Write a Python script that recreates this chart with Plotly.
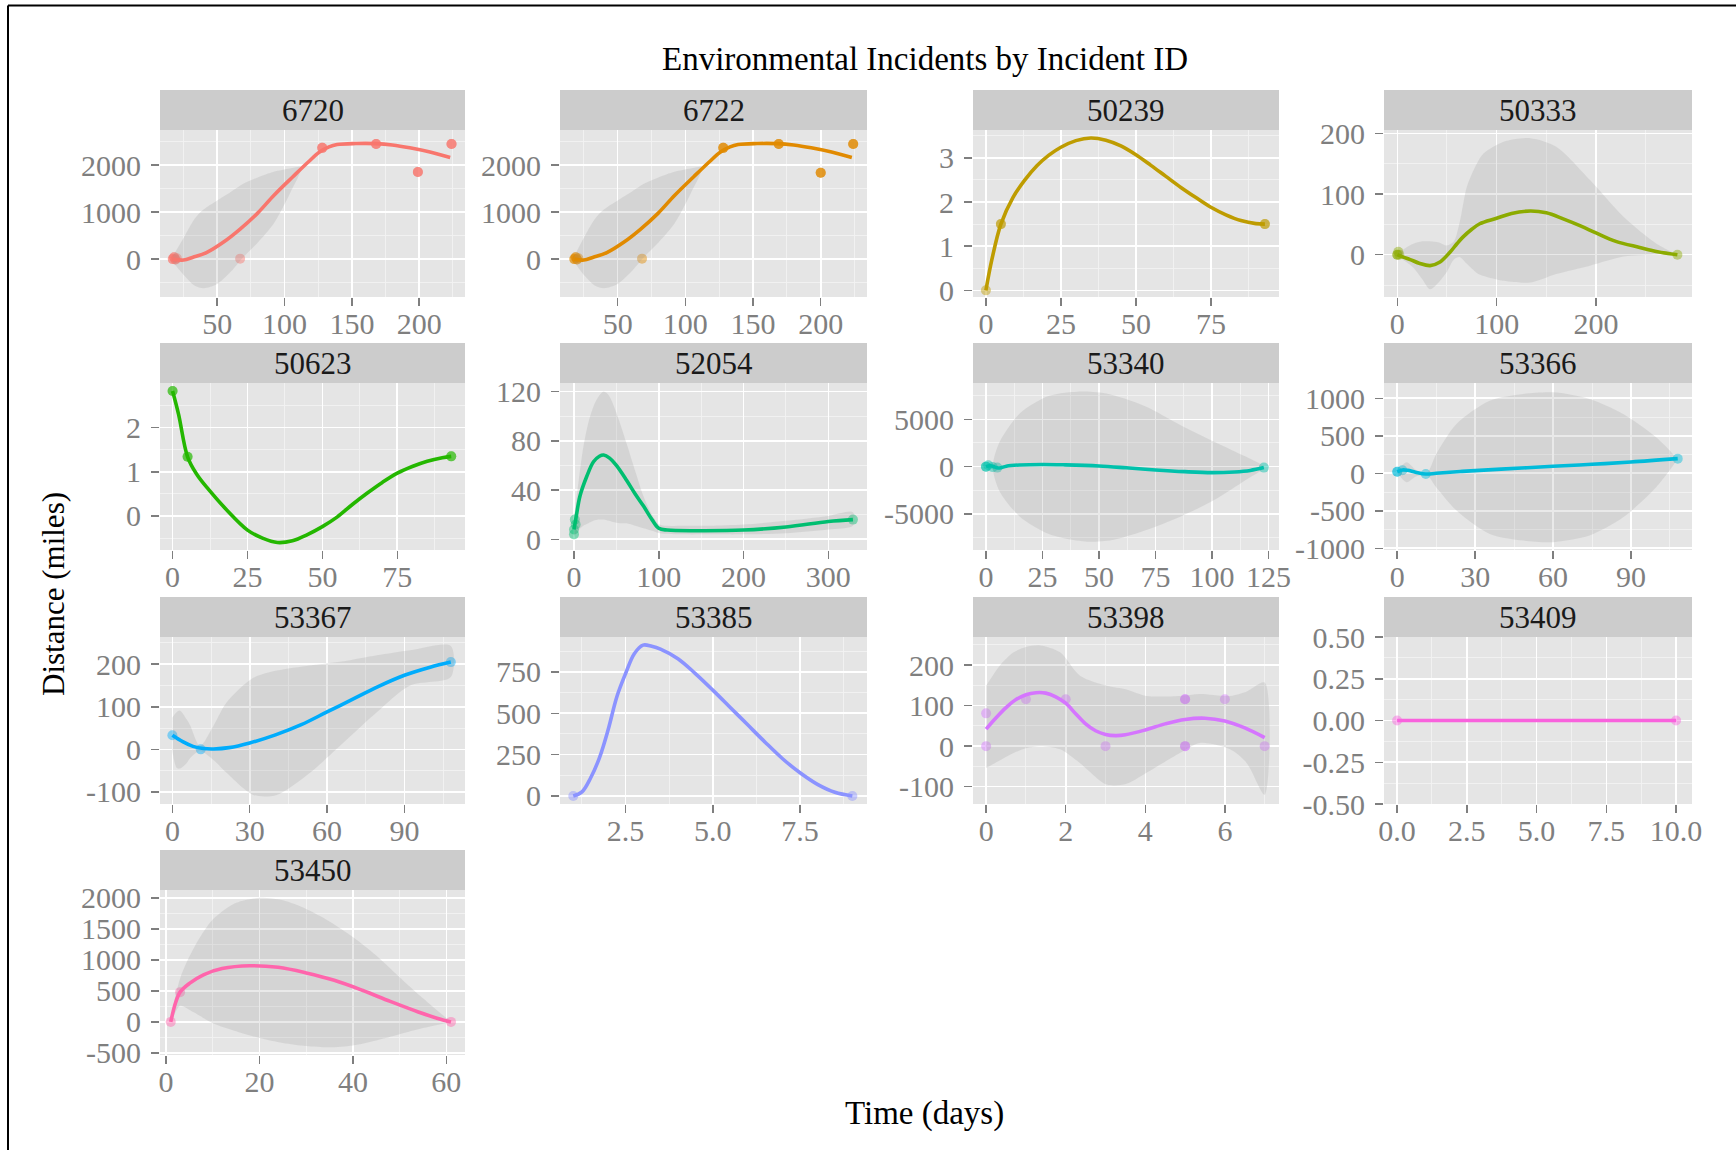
import plotly.graph_objects as go

# ---------------- data ----------------
IDS = ["6720", "6722", "50239", "50333", "50623", "52054", "53340",
       "53366", "53367", "53385", "53398", "53409", "53450"]
COLORS = ["#F8766D", "#E18A00", "#BE9C00", "#8CAB00", "#24B700", "#00BE70",
          "#00C1AB", "#00BBDA", "#00ACFC", "#8B93FF", "#D575FE", "#F962DD", "#FF65AC"]

# 6720 (repeated observations drawn on top of each other)
p6720_pt_x = [17, 17, 18, 18, 20, 19, 19, 67, 128, 128, 128, 168, 168, 168, 199, 199, 199, 224, 224, 224]
p6720_pt_y = [0, 0, 40, 40, 20, -10, -10, 10, 2370, 2370, 2370, 2450, 2450, 2450, 1855, 1855, 1855, 2450, 2450, 2450]
p6720_fit_x = [17, 25, 32, 42, 55, 67, 80, 92, 106, 118, 126, 133, 139, 153, 168, 180, 193, 208, 223]
p6720_fit_y = [0, -20, 40, 140, 370, 640, 980, 1355, 1750, 2080, 2280, 2390, 2440, 2462, 2460, 2430, 2370, 2280, 2165]
p6720_band_x = [17, 24, 33, 40, 50, 60, 69, 80, 92, 104, 112]
p6720_band_hi = [60, 400, 850, 1060, 1250, 1430, 1600, 1740, 1860, 1930, 1960]
p6720_band_lo = [-60, -300, -560, -620, -530, -270, 30, 350, 760, 1400, 1880]
p6720_xticks = [50, 100, 150, 200]
p6720_xlabels = ["50", "100", "150", "200"]
p6720_yticks = [0, 1000, 2000]
p6720_ylabels = ["0", "1000", "2000"]

# 6722
p6722_pt_x = [18, 18, 19, 19, 21, 20, 20, 68, 128, 128, 128, 169, 169, 169, 200, 200, 200, 224, 224, 224]
p6722_pt_y = [0, 0, 40, 40, 20, -10, -10, 10, 2370, 2370, 2370, 2450, 2450, 2450, 1840, 1840, 1840, 2450, 2450, 2450]
p6722_fit_x = [18, 25, 32, 42, 55, 67, 80, 92, 106, 118, 126, 133, 139, 153, 168, 180, 193, 208, 223]
p6722_fit_y = [0, -20, 40, 140, 370, 640, 980, 1355, 1750, 2080, 2280, 2390, 2440, 2462, 2460, 2430, 2370, 2280, 2165]
p6722_band_x = [18, 24, 33, 40, 50, 60, 69, 80, 92, 104, 112]
p6722_band_hi = [60, 400, 850, 1060, 1250, 1430, 1600, 1740, 1860, 1930, 1960]
p6722_band_lo = [-60, -300, -560, -620, -530, -270, 30, 350, 760, 1400, 1880]
p6722_xticks = [50, 100, 150, 200]
p6722_xlabels = ["50", "100", "150", "200"]
p6722_yticks = [0, 1000, 2000]
p6722_ylabels = ["0", "1000", "2000"]

# 50239
p50239_pt_x = [0, 5, 5, 93, 93]
p50239_pt_y = [0, 1.5, 1.5, 1.5, 1.5]
p50239_fit_x = [0, 2, 5, 9, 13, 17, 21, 25, 30, 35, 40, 45, 50, 55, 60, 65, 70, 75, 80, 85, 90, 93]
p50239_fit_y = [0, 0.7, 1.5, 2.1, 2.5, 2.82, 3.06, 3.24, 3.39, 3.45, 3.4, 3.27, 3.07, 2.83, 2.58, 2.33, 2.1, 1.88, 1.71, 1.58, 1.51, 1.5]
p50239_band_x = []
p50239_band_hi = []
p50239_band_lo = []
p50239_xticks = [0, 25, 50, 75]
p50239_xlabels = ["0", "25", "50", "75"]
p50239_yticks = [0, 1, 2, 3]
p50239_ylabels = ["0", "1", "2", "3"]

# 50333
p50333_pt_x = [0, 0, 1, 2, 282]
p50333_pt_y = [0, 0, 5, 0, 0]
p50333_fit_x = [0, 6, 13, 22, 33, 43, 53, 60, 66, 75, 83, 100, 115, 134, 150, 167, 185, 200, 220, 244, 262, 282]
p50333_fit_y = [0, -4, -8, -14, -18, -12, 4, 18, 29, 42, 51, 60, 68, 72, 69, 59, 47, 36, 22, 12, 5, 0]
p50333_band_x = [0, 9, 16, 25, 33, 42, 50, 57, 63, 70, 80, 87, 107, 134, 160, 194, 228, 261, 282]
p50333_band_hi = [0, 12, 18, 22, 22, 20, 15, 22, 55, 112, 150, 167, 186, 192, 178, 123, 62, 18, 0]
p50333_band_lo = [0, -12, -21, -40, -57, -45, -28, -8, -4, -15, -30, -35, -43, -46, -32, -18, -3, 0, 0]
p50333_xticks = [0, 100, 200]
p50333_xlabels = ["0", "100", "200"]
p50333_yticks = [0, 100, 200]
p50333_ylabels = ["0", "100", "200"]

# 50623
p50623_pt_x = [0, 0, 5, 5, 93, 93]
p50623_pt_y = [2.83, 2.83, 1.34, 1.34, 1.35, 1.35]
p50623_fit_x = [0, 2, 5, 8, 12, 18, 25, 30, 35, 40, 45, 50, 55, 60, 65, 70, 75, 80, 85, 90, 93]
p50623_fit_y = [2.83, 2.3, 1.34, 0.95, 0.6, 0.14, -0.32, -0.5, -0.6, -0.56, -0.42, -0.24, -0.02, 0.26, 0.52, 0.76, 0.97, 1.12, 1.24, 1.32, 1.35]
p50623_band_x = []
p50623_band_hi = []
p50623_band_lo = []
p50623_xticks = [0, 25, 50, 75]
p50623_xlabels = ["0", "25", "50", "75"]
p50623_yticks = [0, 1, 2]
p50623_ylabels = ["0", "1", "2"]

# 52054
p52054_pt_x = [0, 0, 1, 2, 329]
p52054_pt_y = [4, 8, 16, 12, 16]
p52054_fit_x = [0, 3, 7, 15, 23, 30, 35, 42, 50, 62, 72, 82, 92, 100, 110, 150, 200, 250, 300, 329]
p52054_fit_y = [8, 20, 35, 51, 63, 67.5, 68.5, 66, 60, 48, 37, 27, 16, 9, 7.5, 7, 7.5, 10, 14.5, 16]
p52054_band_x = [0, 5, 11, 17, 23, 29, 35, 41, 46, 54, 62, 72, 82, 92, 101, 130, 160, 200, 250, 300, 329]
p52054_band_hi = [18, 45, 75, 95, 108, 116, 120, 117, 110, 95, 78, 56, 35, 20, 12, 11, 11, 12, 15, 19, 22]
p52054_band_lo = [2, 7, 11, 13, 15, 16, 16, 15, 14, 13, 13, 11, 9, 7, 5, 4, 4, 4, 5, 8, 11]
p52054_xticks = [0, 100, 200, 300]
p52054_xlabels = ["0", "100", "200", "300"]
p52054_yticks = [0, 40, 80, 120]
p52054_ylabels = ["0", "40", "80", "120"]

# 53340
p53340_pt_x = [0, 0, 1, 3, 5, 123]
p53340_pt_y = [0, 0, 150, -50, -100, -100]
p53340_fit_x = [0, 2, 4, 6, 9, 15, 25, 35, 50, 62, 75, 88, 100, 110, 117, 123]
p53340_fit_y = [0, 100, -50, -150, 50, 180, 230, 190, 70, -120, -350, -530, -630, -560, -400, -100]
p53340_band_x = [3, 6, 15, 27, 35, 45, 56, 71, 86, 101, 115, 123]
p53340_band_hi = [0, 2600, 5640, 7400, 7800, 7930, 7580, 6340, 4410, 2640, 1060, 0]
p53340_band_lo = [0, -2600, -5285, -7040, -7600, -7930, -7750, -6690, -5285, -3520, -1400, -200]
p53340_xticks = [0, 25, 50, 75, 100, 125]
p53340_xlabels = ["0", "25", "50", "75", "100", "125"]
p53340_yticks = [-5000, 0, 5000]
p53340_ylabels = ["-5000", "0", "5000"]

# 53366
p53366_pt_x = [0, 0, 2, 11, 108]
p53366_pt_y = [20, 20, 40, -10, 195]
p53366_fit_x = [0, 2, 4, 7, 11, 15, 25, 40, 60, 75, 90, 108]
p53366_fit_y = [20, 45, 40, 15, -10, 0, 25, 55, 93, 120, 150, 195]
p53366_band_x = [0, 3.6, 7.4, 11.3, 15, 22.8, 35.6, 48.5, 60, 74, 87, 99.7, 107.4]
p53366_band_hi = [30, 147, 40, 0, 258, 658, 968, 1058, 1080, 992, 792, 480, 200]
p53366_band_lo = [10, -120, -40, -20, -187, -497, -808, -897, -918, -830, -587, -187, 170]
p53366_xticks = [0, 30, 60, 90]
p53366_xlabels = ["0", "30", "60", "90"]
p53366_yticks = [-1000, -500, 0, 500, 1000]
p53366_ylabels = ["-1000", "-500", "0", "500", "1000"]

# 53367
p53367_pt_x = [0, 11, 108]
p53367_pt_y = [33, 0, 205]
p53367_fit_x = [0, 4, 8, 12, 16, 22, 30, 40, 50, 60, 70, 80, 90, 100, 108]
p53367_fit_y = [33, 18, 7, 2, 1, 4, 15, 34, 58, 88, 118, 148, 174, 193, 205]
p53367_band_x = [0, 1.7, 3, 5.6, 7, 10.7, 15.9, 21, 31.4, 40.5, 53.4, 66.4, 79.3, 92.2, 108]
p53367_band_hi = [75, 88, 91, 70, 55, 8, 55, 110, 168, 185, 197, 207, 221, 233, 243]
p53367_band_lo = [-5, -44, -45, -32, -20, -4, -25, -55, -107, -107, -55, 16, 87, 150, 170]
p53367_xticks = [0, 30, 60, 90]
p53367_xlabels = ["0", "30", "60", "90"]
p53367_yticks = [-100, 0, 100, 200]
p53367_ylabels = ["-100", "0", "100", "200"]

# 53385
p53385_pt_x = [1, 9]
p53385_pt_y = [0, 0]
p53385_fit_x = [1, 1.25, 1.5, 1.75, 2, 2.25, 2.5, 2.75, 3, 3.25, 3.5, 4, 4.5, 5, 5.5, 6, 6.5, 7, 7.5, 8, 8.5, 9]
p53385_fit_y = [0, 25, 110, 230, 400, 600, 740, 860, 912, 905, 888, 830, 740, 640, 535, 430, 325, 225, 140, 70, 22, 0]
p53385_band_x = []
p53385_band_hi = []
p53385_band_lo = []
p53385_xticks = [2.5, 5.0, 7.5]
p53385_xlabels = ["2.5", "5.0", "7.5"]
p53385_yticks = [0, 250, 500, 750]
p53385_ylabels = ["0", "250", "500", "750"]

# 53398
p53398_pt_x = [0, 0, 1, 2, 3, 5, 5, 5, 5, 6, 7]
p53398_pt_y = [81, 0, 116, 116, 0, 116, 116, 0, 0, 116, 0]
p53398_fit_x = [0, 0.25, 0.5, 0.75, 1, 1.25, 1.5, 1.75, 2, 2.25, 2.5, 2.75, 3, 3.25, 3.5, 4, 4.5, 5, 5.5, 6, 6.5, 7]
p53398_fit_y = [42, 70, 95, 115, 127, 132, 131, 122, 106, 80, 55, 38, 29, 26, 28, 40, 55, 66, 69, 62, 45, 21]
p53398_band_x = [0, 0.35, 0.69, 1.0, 1.36, 1.86, 2.36, 3.03, 3.53, 4.03, 4.87, 5.37, 6.13, 6.55, 7]
p53398_band_hi = [149, 200, 232, 245, 249, 232, 174, 149, 140, 124, 124, 129, 124, 135, 157]
p53398_band_lo = [-54, -35, -17, -5, 0, -8, -42, -95, -93, -66, -17, 8, -8, -42, -120]
p53398_xticks = [0, 2, 4, 6]
p53398_xlabels = ["0", "2", "4", "6"]
p53398_yticks = [-100, 0, 100, 200]
p53398_ylabels = ["-100", "0", "100", "200"]

# 53409
p53409_pt_x = [0, 10]
p53409_pt_y = [0, 0]
p53409_fit_x = [0, 10]
p53409_fit_y = [0, 0]
p53409_band_x = []
p53409_band_hi = []
p53409_band_lo = []
p53409_xticks = [0, 2.5, 5, 7.5, 10]
p53409_xlabels = ["0.0", "2.5", "5.0", "7.5", "10.0"]
p53409_yticks = [-0.5, -0.25, 0, 0.25, 0.5]
p53409_ylabels = ["-0.50", "-0.25", "0.00", "0.25", "0.50"]

# 53450
p53450_pt_x = [1, 3, 61]
p53450_pt_y = [0, 480, 0]
p53450_fit_x = [1, 2, 3, 5, 8, 12, 18, 24, 30, 36, 42, 48, 54, 58, 61]
p53450_fit_y = [0, 300, 480, 620, 760, 860, 905, 880, 790, 670, 510, 330, 160, 60, 0]
p53450_band_x = [1, 3, 6, 10, 15, 20, 25, 30, 35, 40, 45, 50, 55, 61]
p53450_band_hi = [0, 700, 1200, 1650, 1920, 2000, 1960, 1820, 1620, 1370, 1070, 720, 380, 0]
p53450_band_lo = [0, 260, 150, -20, -150, -260, -340, -390, -410, -380, -300, -200, -100, 0]
p53450_xticks = [0, 20, 40, 60]
p53450_xlabels = ["0", "20", "40", "60"]
p53450_yticks = [-500, 0, 500, 1000, 1500, 2000]
p53450_ylabels = ["-500", "0", "500", "1000", "1500", "2000"]

PANELS = [
    (p6720_pt_x, p6720_pt_y, p6720_fit_x, p6720_fit_y, p6720_band_x, p6720_band_hi, p6720_band_lo,
     p6720_xticks, p6720_xlabels, p6720_yticks, p6720_ylabels),
    (p6722_pt_x, p6722_pt_y, p6722_fit_x, p6722_fit_y, p6722_band_x, p6722_band_hi, p6722_band_lo,
     p6722_xticks, p6722_xlabels, p6722_yticks, p6722_ylabels),
    (p50239_pt_x, p50239_pt_y, p50239_fit_x, p50239_fit_y, p50239_band_x, p50239_band_hi, p50239_band_lo,
     p50239_xticks, p50239_xlabels, p50239_yticks, p50239_ylabels),
    (p50333_pt_x, p50333_pt_y, p50333_fit_x, p50333_fit_y, p50333_band_x, p50333_band_hi, p50333_band_lo,
     p50333_xticks, p50333_xlabels, p50333_yticks, p50333_ylabels),
    (p50623_pt_x, p50623_pt_y, p50623_fit_x, p50623_fit_y, p50623_band_x, p50623_band_hi, p50623_band_lo,
     p50623_xticks, p50623_xlabels, p50623_yticks, p50623_ylabels),
    (p52054_pt_x, p52054_pt_y, p52054_fit_x, p52054_fit_y, p52054_band_x, p52054_band_hi, p52054_band_lo,
     p52054_xticks, p52054_xlabels, p52054_yticks, p52054_ylabels),
    (p53340_pt_x, p53340_pt_y, p53340_fit_x, p53340_fit_y, p53340_band_x, p53340_band_hi, p53340_band_lo,
     p53340_xticks, p53340_xlabels, p53340_yticks, p53340_ylabels),
    (p53366_pt_x, p53366_pt_y, p53366_fit_x, p53366_fit_y, p53366_band_x, p53366_band_hi, p53366_band_lo,
     p53366_xticks, p53366_xlabels, p53366_yticks, p53366_ylabels),
    (p53367_pt_x, p53367_pt_y, p53367_fit_x, p53367_fit_y, p53367_band_x, p53367_band_hi, p53367_band_lo,
     p53367_xticks, p53367_xlabels, p53367_yticks, p53367_ylabels),
    (p53385_pt_x, p53385_pt_y, p53385_fit_x, p53385_fit_y, p53385_band_x, p53385_band_hi, p53385_band_lo,
     p53385_xticks, p53385_xlabels, p53385_yticks, p53385_ylabels),
    (p53398_pt_x, p53398_pt_y, p53398_fit_x, p53398_fit_y, p53398_band_x, p53398_band_hi, p53398_band_lo,
     p53398_xticks, p53398_xlabels, p53398_yticks, p53398_ylabels),
    (p53409_pt_x, p53409_pt_y, p53409_fit_x, p53409_fit_y, p53409_band_x, p53409_band_hi, p53409_band_lo,
     p53409_xticks, p53409_xlabels, p53409_yticks, p53409_ylabels),
    (p53450_pt_x, p53450_pt_y, p53450_fit_x, p53450_fit_y, p53450_band_x, p53450_band_hi, p53450_band_lo,
     p53450_xticks, p53450_xlabels, p53450_yticks, p53450_ylabels),
]

# ---------------- layout (pixel geometry) ----------------
W, H = 1736, 1150
COLS = [(160, 465), (560, 867), (973, 1279), (1384, 1692)]
ROWS = [(90, 130, 297), (343, 383, 550), (597, 637, 804), (850, 890, 1055)]
XRANGES = [(7.5, 234), (7.4, 234.2), (-4.3, 97.7), (-13.4, 296.7), (-4.2, 97.6), (-16.5, 345.6),
           (-5.75, 129.7), (-5.1, 113.5), (-4.8, 113.5), (0.62, 9.42), (-0.33, 7.36), (-0.47, 10.57),
           (-1.3, 64)]
YRANGES = [(-807, 2750), (-807, 2750), (-0.15, 3.63), (-69.7, 205.5), (-0.77, 3.01), (-8.7, 127),
           (-8805, 8837), (-1023, 1204), (-128.4, 264), (-48.7, 961), (-143, 269.7), (-0.5, 0.5),
           (-534, 2127)]

FONT = "Liberation Serif, Times New Roman, serif"
TICKFONT = dict(family=FONT, size=30, color="#7F7F7F")
BAND_FILL = "rgba(153,153,153,0.22)"


def minor_vals(ticks, rng):
    if len(ticks) < 2:
        return []
    step = ticks[1] - ticks[0]
    vals = [ticks[0] - step / 2] + [(a + b) / 2 for a, b in zip(ticks[:-1], ticks[1:])] + [ticks[-1] + step / 2]
    vals = [ticks[0] - 1.5 * step] + vals + [ticks[-1] + 1.5 * step]
    return [v for v in vals if rng[0] <= v <= rng[1]]


fig = go.Figure()
layout = {}
shapes = []
annotations = []

for i, (px, py, fx, fy, bx, bhi, blo, xt, xl, yt, yl) in enumerate(PANELS):
    n = i + 1
    r, c = divmod(i, 4)
    L, R = COLS[c]
    st, pt, pb = ROWS[r]
    xa = "x" if n == 1 else f"x{n}"
    ya = "y" if n == 1 else f"y{n}"
    color = COLORS[i]

    fig.add_trace(go.Scatter(x=px, y=py, mode="markers", xaxis=xa, yaxis=ya,
                             marker=dict(color=color, size=10, opacity=0.45, line=dict(width=0)),
                             hoverinfo="skip", showlegend=False))
    if bx:
        fig.add_trace(go.Scatter(x=bx + bx[::-1], y=bhi + blo[::-1], mode="lines",
                                 fill="toself", fillcolor=BAND_FILL,
                                 line=dict(width=0, shape="spline", smoothing=0.8),
                                 xaxis=xa, yaxis=ya, hoverinfo="skip", showlegend=False))
    fig.add_trace(go.Scatter(x=fx, y=fy, mode="lines", xaxis=xa, yaxis=ya,
                             line=dict(color=color, width=3.6, shape="spline", smoothing=1.0),
                             hoverinfo="skip", showlegend=False))

    common = dict(showgrid=True, gridcolor="#FFFFFF", gridwidth=1.6, zeroline=False,
                  showline=False, ticks="outside", ticklen=8, tickwidth=1.5,
                  tickcolor="#7F7F7F", tickfont=TICKFONT,
                  tickmode="array", fixedrange=True, automargin=False)
    layout["xaxis" if n == 1 else f"xaxis{n}"] = dict(
        common, domain=[L / W, R / W], anchor=ya, range=list(XRANGES[i]),
        tickvals=xt, ticktext=xl, ticklabelstandoff=-8,
        minor=dict(tickmode="array", tickvals=minor_vals(xt, XRANGES[i]), showgrid=True,
                   gridcolor="#F2F2F2", gridwidth=0.9, ticks=""))
    layout["yaxis" if n == 1 else f"yaxis{n}"] = dict(
        common, domain=[1 - pb / H, 1 - pt / H], anchor=xa, range=list(YRANGES[i]),
        tickvals=yt, ticktext=yl, ticklabelstandoff=4,
        minor=dict(tickmode="array", tickvals=minor_vals(yt, YRANGES[i]), showgrid=True,
                   gridcolor="#F2F2F2", gridwidth=0.9, ticks=""))

    shapes.append(dict(type="rect", xref="paper", yref="paper",
                       x0=L / W, x1=R / W, y0=1 - pt / H, y1=1 - st / H,
                       fillcolor="#CCCCCC", line=dict(width=0), layer="below"))
    annotations.append(dict(text=IDS[i], xref="paper", yref="paper",
                            x=(L + R) / 2 / W, y=1 - (st + pt) / 2 / H,
                            xanchor="center", yanchor="middle", showarrow=False,
                            font=dict(family=FONT, size=31, color="#1A1A1A")))

# frame lines (top and left edges of the original screenshot border)
shapes.append(dict(type="line", xref="paper", yref="paper",
                   x0=8 / W, x1=1.0, y0=1 - 5.5 / H, y1=1 - 5.5 / H,
                   line=dict(color="#000000", width=2), layer="above"))
shapes.append(dict(type="line", xref="paper", yref="paper",
                   x0=8 / W, x1=8 / W, y0=0.0, y1=1 - 5.5 / H,
                   line=dict(color="#000000", width=2), layer="above"))

annotations.append(dict(text="Environmental Incidents by Incident ID", xref="paper", yref="paper",
                        x=925 / W, y=1 - 59 / H, xanchor="center", yanchor="middle",
                        showarrow=False, font=dict(family=FONT, size=33, color="#000000")))
annotations.append(dict(text="Time (days)", xref="paper", yref="paper",
                        x=925 / W, y=1 - 1113 / H, xanchor="center", yanchor="middle",
                        showarrow=False, font=dict(family=FONT, size=33, color="#000000")))
annotations.append(dict(text="Distance (miles)", xref="paper", yref="paper",
                        x=53 / W, y=1 - 594 / H, xanchor="center", yanchor="middle",
                        textangle=-90, showarrow=False,
                        font=dict(family=FONT, size=31, color="#000000")))

fig.update_layout(width=W, height=H, margin=dict(l=0, r=0, t=0, b=0, pad=0, autoexpand=False),
                  paper_bgcolor="#FFFFFF", plot_bgcolor="#E5E5E5",
                  showlegend=False, shapes=shapes, annotations=annotations,
                  font=dict(family=FONT), **layout)

fig.write_html("out.html", config={"displayModeBar": False, "staticPlot": True},
               post_script="document.body.style.margin='0px';document.body.style.overflow='hidden';")
